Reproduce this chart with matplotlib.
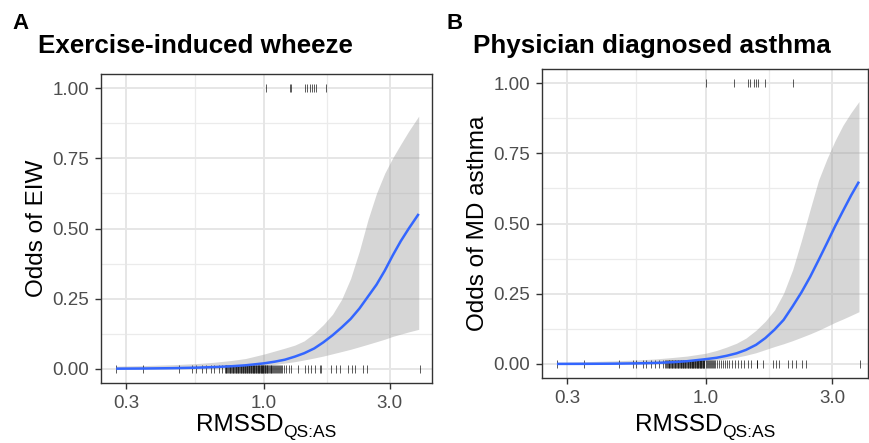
import numpy as np
import matplotlib
matplotlib.use("Agg")
import matplotlib.pyplot as plt

plt.rcParams['font.family'] = ['Liberation Sans', 'DejaVu Sans']

# ---------------- data ----------------
titles = ["Exercise-induced wheeze", "Physician diagnosed asthma"]
panel_tags = ["A", "B"]
y_labels = ["Odds of EIW", "Odds of MD asthma"]
x_label_main = "RMSSD"
x_label_sub = "QS:AS"
x_ticks = [0.3, 1.0, 3.0]
x_tick_labels = ["0.3", "1.0", "3.0"]
y_ticks = [0.0, 0.25, 0.5, 0.75, 1.0]
y_tick_labels = ["0.00", "0.25", "0.50", "0.75", "1.00"]

# Panel A fitted curve and 95% band
xA = [0.275, 0.35, 0.45, 0.55, 0.65, 0.75, 0.85, 1.0, 1.1, 1.2, 1.31, 1.42, 1.55,
      1.68, 1.82, 1.97, 2.13, 2.3, 2.48, 2.67, 2.87, 3.08, 3.3, 3.54, 3.86]
fitA = [0.001, 0.0016, 0.0028, 0.0045, 0.0068, 0.0095, 0.013, 0.02, 0.026, 0.033, 0.044,
        0.056, 0.073, 0.095, 0.12, 0.148, 0.178, 0.215, 0.258, 0.30, 0.35, 0.405, 0.455,
        0.50, 0.552]
upA = [0.010, 0.012, 0.015, 0.019, 0.024, 0.030, 0.037, 0.053, 0.064, 0.074, 0.085, 0.10,
       0.127, 0.158, 0.195, 0.248, 0.322, 0.42, 0.532, 0.625, 0.697, 0.752, 0.80, 0.847,
       0.90]
loA = [0.0, 0.0002, 0.0005, 0.001, 0.002, 0.004, 0.006, 0.012, 0.016, 0.021, 0.026, 0.032,
       0.039, 0.046, 0.054, 0.062, 0.07, 0.079, 0.088, 0.097, 0.106, 0.116, 0.124, 0.132,
       0.141]

# Panel B fitted curve and 95% band
xB = [0.275, 0.35, 0.45, 0.55, 0.65, 0.75, 0.85, 1.0, 1.1, 1.2, 1.31, 1.42, 1.55,
      1.68, 1.82, 1.97, 2.13, 2.3, 2.48, 2.67, 2.87, 3.08, 3.3, 3.54, 3.79]
fitB = [0.0002, 0.0004, 0.001, 0.0021, 0.0038, 0.0062, 0.0097, 0.017, 0.022, 0.029, 0.038,
        0.05, 0.068, 0.092, 0.122, 0.157, 0.205, 0.255, 0.31, 0.37, 0.43, 0.49, 0.545,
        0.60, 0.649]
upB = [0.006, 0.008, 0.011, 0.014, 0.018, 0.023, 0.028, 0.038, 0.048, 0.06, 0.074, 0.092,
       0.12, 0.152, 0.192, 0.252, 0.335, 0.44, 0.55, 0.655, 0.73, 0.795, 0.85, 0.895, 0.934]
loB = [0.0, 0.0001, 0.0003, 0.0006, 0.0012, 0.0025, 0.005, 0.01, 0.014, 0.018, 0.024,
       0.031, 0.04, 0.051, 0.062, 0.072, 0.083, 0.095, 0.107, 0.12, 0.134, 0.148, 0.16,
       0.173, 0.186]

# Rug observations (outcome 0 at bottom, outcome 1 at top)
rug0A = [0.275, 0.349, 0.475, 0.534, 0.55, 0.583, 0.601, 0.628, 0.646, 0.675, 0.695,
         0.71, 0.715, 0.72, 0.725, 0.73, 0.735, 0.74, 0.745, 0.75, 0.755, 0.76, 0.765, 0.77,
         0.775, 0.78, 0.785, 0.79, 0.795, 0.80, 0.805, 0.81, 0.815, 0.82, 0.825, 0.83,
         0.835, 0.84, 0.845, 0.85, 0.855, 0.86, 0.865, 0.87, 0.875, 0.88, 0.885, 0.89,
         0.895, 0.90, 0.905, 0.91, 0.915, 0.92, 0.925, 0.93, 0.935, 0.94, 0.945, 0.95,
         0.955, 0.96, 0.965, 0.97, 0.975, 0.98, 0.985, 0.99, 0.995, 1.0, 1.005, 1.01,
         1.02, 1.025, 1.03, 1.04, 1.045, 1.05, 1.06, 1.065, 1.07, 1.08, 1.09, 1.10, 1.11,
         1.12, 1.13, 1.14, 1.15, 1.16, 1.17, 1.19, 1.21, 1.24, 1.27, 1.345, 1.43, 1.47,
         1.51, 1.56, 1.63, 1.65, 1.80, 1.88, 1.94, 2.08, 2.16, 2.21, 2.38, 2.45, 3.89]
rug1A = [1.02, 1.25, 1.27, 1.43, 1.46, 1.49, 1.52, 1.55, 1.58, 1.72]

rug0B = [0.275, 0.347, 0.471, 0.532, 0.547, 0.58, 0.598, 0.624, 0.642, 0.67,
         0.69, 0.70, 0.71, 0.715, 0.72, 0.725, 0.73, 0.735, 0.74, 0.745, 0.75, 0.755,
         0.76, 0.765, 0.77, 0.775, 0.78, 0.785, 0.79, 0.795, 0.80, 0.805, 0.81, 0.815,
         0.82, 0.825, 0.83, 0.835, 0.84, 0.845, 0.85, 0.855, 0.86, 0.865, 0.87, 0.875,
         0.88, 0.885, 0.89, 0.895, 0.90, 0.905, 0.91, 0.915, 0.92, 0.925, 0.93, 0.935,
         0.94, 0.945, 0.95, 0.955, 0.96, 0.965, 0.97, 0.975, 0.98, 0.985, 0.99, 1.0,
         1.01, 1.02, 1.03, 1.04, 1.05, 1.06, 1.07, 1.08, 1.09, 1.10, 1.12, 1.14, 1.16,
         1.18, 1.20, 1.23, 1.26, 1.29, 1.32, 1.36, 1.40, 1.44, 1.49, 1.56, 1.57, 1.64,
         1.79, 1.85, 1.90, 2.04, 2.11, 2.20, 2.32, 2.40, 3.81]
rug1B = [1.006, 1.28, 1.44, 1.47, 1.52, 1.55, 1.58, 1.68, 2.13]

# ---------------- figure ----------------
W, H = 870, 443
fig = plt.figure(figsize=(W / 100, H / 100), dpi=100)
fig.patch.set_facecolor("white")
renderer = fig.canvas.get_renderer()


def px_axes(left, top, right, bottom):
    return fig.add_axes([left / W, 1 - bottom / H, (right - left) / W, (bottom - top) / H])


def fx(x):
    return x / W


def fy(y):
    return 1 - y / H


panels = [
    dict(box=(101, 74, 432, 383), xlim=(0.241, 4.335), x=xA, fit=fitA, up=upA, lo=loA,
         r0=rug0A, r1=rug1A, tag_x=12, title_x=38, ylab_x=37, xlab_x=266),
    dict(box=(542, 69, 868, 378), xlim=(0.2415, 4.10), x=xB, fit=fitB, up=upB, lo=loB,
         r0=rug0B, r1=rug1B, tag_x=447, title_x=473, ylab_x=478, xlab_x=705),
]

minor_x = [np.sqrt(0.3), np.sqrt(3.0)]
minor_y = [0.125, 0.375, 0.625, 0.875]

for i, p in enumerate(panels):
    ax = px_axes(*p["box"])
    ax.set_xscale("log")
    ax.set_xlim(*p["xlim"])
    ax.set_ylim(-0.05, 1.05)
    ax.set_facecolor("white")

    # grid
    for v in minor_x:
        ax.axvline(v, color="#EBEBEB", lw=0.9, zorder=0)
    for v in minor_y:
        ax.axhline(v, color="#EBEBEB", lw=0.9, zorder=0)
    for v in x_ticks:
        ax.axvline(v, color="#E6E6E6", lw=1.4, zorder=0)
    for v in y_ticks:
        ax.axhline(v, color="#E6E6E6", lw=1.4, zorder=0)

    # band and fit
    ax.fill_between(p["x"], p["lo"], p["up"], color="#999999", alpha=0.4, lw=0, zorder=1)
    ax.plot(p["x"], p["fit"], color="#3366FF", lw=1.8, zorder=3,
            solid_capstyle="butt", solid_joinstyle="round")

    # rugs
    ax.scatter(p["r0"], [0] * len(p["r0"]), marker="|", s=26, color="black",
               alpha=0.75, linewidths=0.6, zorder=2)
    ax.scatter(p["r1"], [1] * len(p["r1"]), marker="|", s=26, color="black",
               alpha=0.75, linewidths=0.6, zorder=2)

    # ticks
    ax.set_xticks(x_ticks)
    ax.set_xticklabels(x_tick_labels)
    ax.xaxis.set_minor_locator(matplotlib.ticker.NullLocator())
    ax.set_yticks(y_ticks)
    ax.set_yticklabels(y_tick_labels)
    ax.tick_params(axis="both", which="major", length=4.3, width=1.0, color="#333333",
                   labelsize=13.5, labelcolor="#4D4D4D", pad=4.5)
    for s in ax.spines.values():
        s.set_color("#333333")
        s.set_linewidth(1.0)

    left, top, right, bottom = p["box"]
    fig.text(fx(p["tag_x"]), fy(29), panel_tags[i], fontsize=16, fontweight="bold",
             ha="left", va="baseline", color="black")
    fig.text(fx(p["title_x"]), fy(53), titles[i], fontsize=18.7, fontweight="bold",
             ha="left", va="baseline", color="black")
    fig.text(fx(p["ylab_x"]), fy((top + bottom) / 2), y_labels[i], fontsize=17.5,
             rotation=90, ha="center", va="center", color="black")

    # x label: main text + subscript, centred together under the panel
    t_main = fig.text(0, fy(431), x_label_main, fontsize=17.5, ha="left",
                      va="baseline", color="black")
    t_sub = fig.text(0, fy(437), x_label_sub, fontsize=12.5, ha="left",
                     va="baseline", color="black")
    w_main = t_main.get_window_extent(renderer).width
    w_sub = t_sub.get_window_extent(renderer).width
    start = p["xlab_x"] - (w_main + w_sub) / 2
    t_main.set_x(fx(start))
    t_sub.set_x(fx(start + w_main + 0.5))

fig.savefig("out.png", dpi=100, facecolor="white")
